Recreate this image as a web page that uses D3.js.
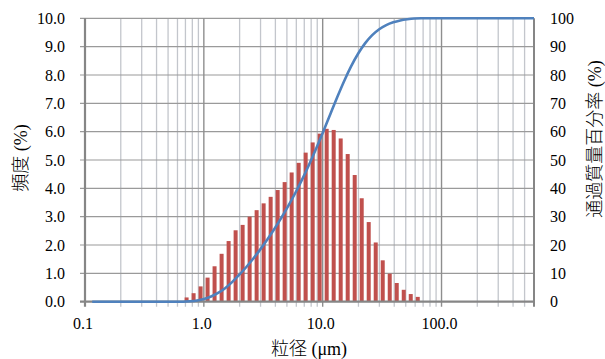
<!DOCTYPE html>
<html>
<head>
<meta charset="utf-8">
<script src="https://cdn.jsdelivr.net/npm/d3@7/dist/d3.min.js"></script>
<style>
  html, body { margin: 0; padding: 0; background: #fff; }
  svg { display: block; }
  text { font-family: "Liberation Serif", "Noto Sans CJK JP", serif; fill: #000; }
  .title { font-family: "Liberation Serif", "Noto Sans CJK JP", serif; font-weight: 300; }
</style>
</head>
<body>
<svg id="chart" width="605" height="359"></svg>
<script>
// Particle size bins (µm, bin centres) and frequency (%)
const binSizes = [0.716, 0.820, 0.939, 1.075, 1.231, 1.411, 1.616, 1.851, 2.120, 2.428,
                  2.781, 3.185, 3.649, 4.179, 4.786, 5.482, 6.279, 7.192, 8.238, 9.435,
                  10.806, 12.377, 14.176, 16.237, 18.597, 21.302, 24.397, 27.944, 32.007, 36.660,
                  41.989, 48.094, 55.085, 63.091];
const frequency = [0.15, 0.30, 0.54, 0.85, 1.25, 1.69, 2.14, 2.52, 2.71, 3.00,
                   3.23, 3.47, 3.70, 3.94, 4.22, 4.56, 4.90, 5.26, 5.62, 5.93,
                   6.10, 6.06, 5.76, 5.21, 4.47, 3.65, 2.81, 2.09, 1.46, 0.99,
                   0.66, 0.42, 0.27, 0.17];

// Cumulative passing (%) at bin edges (µm)
const edgeSizes = [0.115, 0.131, 0.150, 0.172, 0.197, 0.226, 0.259, 0.296, 0.339, 0.389,
                   0.445, 0.510, 0.584, 0.669, 0.766, 0.877, 1.005, 1.151, 1.318, 1.510,
                   1.729, 1.981, 2.269, 2.599, 2.976, 3.409, 3.905, 4.472, 5.122, 5.867,
                   6.720, 7.697, 8.816, 10.097, 11.565, 13.246, 15.172, 17.377, 19.904, 22.797,
                   26.111, 29.907, 34.255, 39.234, 44.938, 51.471, 58.953, 67.523, 77.339, 88.583,
                   101.46, 116.21, 133.10, 152.45, 174.62, 200.00, 229.08, 262.38, 300.52, 344.21,
                   394.24, 451.56, 517.20, 592.39, 678.50];
const passing = [0, 0, 0, 0, 0, 0, 0, 0, 0, 0,
                 0, 0, 0, 0, 0.15, 0.45, 0.99, 1.84, 3.09, 4.78,
                 6.92, 9.44, 12.15, 15.15, 18.38, 21.85, 25.55, 29.49, 33.71, 38.27,
                 43.17, 48.43, 54.05, 59.98, 66.08, 72.14, 77.90, 83.11, 87.58, 91.23,
                 94.04, 96.13, 97.59, 98.58, 99.24, 99.66, 99.93, 100, 100, 100,
                 100, 100, 100, 100, 100, 100, 100, 100, 100, 100,
                 100, 100, 100, 100, 100];

const xTickValues = [0.1, 1, 10, 100];
const xTickLabels = ["0.1", "1.0", "10.0", "100.0"];
const leftTicks = [0, 1, 2, 3, 4, 5, 6, 7, 8, 9, 10];
const rightTicks = [0, 10, 20, 30, 40, 50, 60, 70, 80, 90, 100];

const xTitle = "粒径 (μm)";
const leftTitle = "頻度 (%)";
const rightTitle = "通過質量百分率 (%)";

const svg = d3.select("#chart");
const m = { left: 85, right: 534, top: 18.3, bottom: 301.7 };

const x = d3.scaleLog().domain([0.1, 600]).range([m.left, m.right]);
const yL = d3.scaleLinear().domain([0, 10]).range([m.bottom, m.top]);
const yR = d3.scaleLinear().domain([0, 100]).range([m.bottom, m.top]);

// Vertical gridlines: minor first, decades on top
const minor = x.ticks().filter(v => v > 0.1 && v < 600 && Math.abs(Math.log10(v) % 1) > 1e-6);
svg.append("g").selectAll("line").data(minor).join("line")
  .attr("x1", d => x(d)).attr("x2", d => x(d))
  .attr("y1", m.top).attr("y2", m.bottom + 5)
  .attr("stroke", "#c3c6cc").attr("stroke-width", 1.3);

// Horizontal gridlines
svg.append("g").selectAll("line").data(leftTicks.slice(1)).join("line")
  .attr("x1", m.left - 5).attr("x2", m.right)
  .attr("y1", d => yL(d)).attr("y2", d => yL(d))
  .attr("stroke", "#9a9a9a").attr("stroke-width", 1.2);

svg.append("g").selectAll("line").data(xTickValues.slice(1)).join("line")
  .attr("x1", d => x(d)).attr("x2", d => x(d))
  .attr("y1", m.top).attr("y2", m.bottom + 5)
  .attr("stroke", "#8e8e8e").attr("stroke-width", 1.4);

// Frequency bars
svg.append("g").selectAll("rect").data(binSizes).join("rect")
  .attr("x", d => x(d) - 2)
  .attr("width", 4)
  .attr("y", (d, i) => yL(frequency[i]))
  .attr("height", (d, i) => yL(0) - yL(frequency[i]))
  .attr("fill", "#c0504d");

// Axes frame
svg.append("line").attr("x1", m.left).attr("x2", m.left).attr("y1", m.top).attr("y2", m.bottom + 5)
  .attr("stroke", "#868686").attr("stroke-width", 2.2);
svg.append("line").attr("x1", m.right).attr("x2", m.right).attr("y1", m.top).attr("y2", m.bottom + 5)
  .attr("stroke", "#868686").attr("stroke-width", 2);
svg.append("line").attr("x1", m.left - 5).attr("x2", m.right).attr("y1", m.bottom).attr("y2", m.bottom)
  .attr("stroke", "#868686").attr("stroke-width", 2.2);

// Cumulative passing curve
svg.append("clipPath").attr("id", "plot-clip").append("rect")
  .attr("x", m.left).attr("y", m.top - 3).attr("width", m.right - m.left).attr("height", m.bottom - m.top + 6);
const line = d3.line()
  .x(d => x(d[0])).y(d => yR(d[1]))
  .curve(d3.curveMonotoneX);
svg.append("path")
  .datum(edgeSizes.map((s, i) => [s, passing[i]]))
  .attr("clip-path", "url(#plot-clip)")
  .attr("d", line)
  .attr("fill", "none")
  .attr("stroke", "#4f81bd")
  .attr("stroke-width", 2.6)
  .attr("stroke-linejoin", "round");

// Tick labels
svg.append("g").selectAll("text").data(leftTicks).join("text")
  .attr("x", 65).attr("y", d => yL(d)).attr("dy", "0.35em")
  .attr("text-anchor", "end").attr("font-size", 16)
  .text(d => d.toFixed(1));
svg.append("g").selectAll("text").data(rightTicks).join("text")
  .attr("x", 550).attr("y", d => yR(d)).attr("dy", "0.35em")
  .attr("text-anchor", "start").attr("font-size", 16)
  .text(d => d);
svg.append("g").selectAll("text").data(xTickValues).join("text")
  .attr("x", d => x(d) - 2).attr("y", 329)
  .attr("text-anchor", "middle").attr("font-size", 16)
  .text((d, i) => xTickLabels[i]);

// Axis titles
svg.append("text").attr("class", "title").attr("x", 309).attr("y", 355)
  .attr("text-anchor", "middle").attr("font-size", 18).text(xTitle);
svg.append("text").attr("class", "title").attr("transform", "translate(27,158) rotate(-90)")
  .attr("text-anchor", "middle").attr("font-size", 18).text(leftTitle);
svg.append("text").attr("class", "title").attr("transform", "translate(601,139) rotate(-90)")
  .attr("text-anchor", "middle").attr("font-size", 18).text(rightTitle);
</script>
</body>
</html>
